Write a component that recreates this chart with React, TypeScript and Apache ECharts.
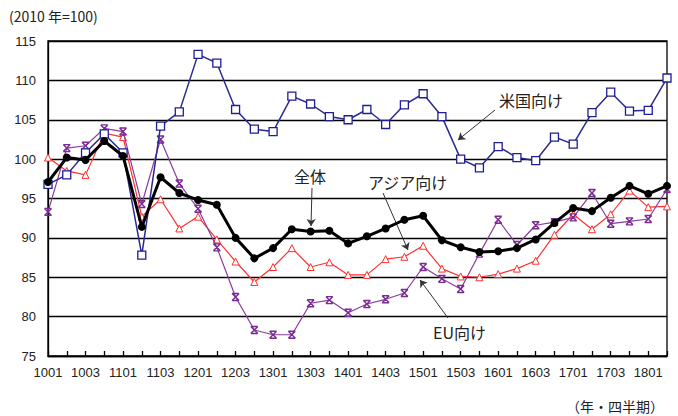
import React, { useEffect, useRef } from "react";
import * as echarts from "echarts";

const categories = [
  "1001", "1002", "1003", "1004", "1101", "1102", "1103", "1104",
  "1201", "1202", "1203", "1204", "1301", "1302", "1303", "1304",
  "1401", "1402", "1403", "1404", "1501", "1502", "1503", "1504",
  "1601", "1602", "1603", "1604", "1701", "1702", "1703", "1704",
  "1801", "1802",
];

const zentai = [
  97.1, 100.2, 99.9, 102.3, 100.4, 91.4, 97.7, 95.7,
  94.8, 94.2, 90.0, 87.4, 88.7, 91.1, 90.8, 90.9,
  89.3, 90.2, 91.2, 92.3, 92.8, 89.7, 88.8, 88.2,
  88.3, 88.7, 89.8, 91.9, 93.8, 93.4, 95.1, 96.6,
  95.6, 96.6,
];

const beikoku = [
  96.8, 98.0, 100.8, 103.2, 100.8, 87.8, 104.2, 106.0,
  113.3, 112.2, 106.3, 103.8, 103.5, 108.0, 107.0, 105.4,
  105.0, 106.3, 104.4, 106.9, 108.3, 105.4, 100.0, 98.9,
  101.6, 100.2, 99.8, 102.8, 101.9, 105.9, 108.5, 106.1,
  106.2, 110.3,
];

const asia = [
  100.2, 98.5, 98.0, 103.3, 102.8, 92.7, 94.9, 91.2,
  92.7, 89.8, 87.0, 84.4, 86.3, 88.7, 86.3, 86.9,
  85.3, 85.3, 87.3, 87.6, 89.0, 86.1, 85.1, 85.0,
  85.4, 86.1, 87.1, 90.4, 93.0, 91.1, 93.0, 96.0,
  93.9, 94.0,
];

const eu = [
  93.3, 101.4, 101.7, 103.9, 103.5, 94.3, 102.5, 96.9,
  93.7, 88.8, 82.5, 78.3, 77.7, 77.7, 81.7, 82.1,
  80.5, 81.6, 82.2, 83.0, 86.3, 84.8, 83.5, 88.0,
  92.3, 89.1, 91.6, 92.0, 92.6, 95.7, 91.8, 92.1,
  92.4, 96.2,
];

const yTicks = { min: 75, max: 115, interval: 5 };

const FONT = "'Liberation Sans', 'Noto Sans CJK JP', sans-serif";
const JP = "'Noto Sans CJK JP', 'Liberation Sans', sans-serif";

export default function App() {
  const ref = useRef<HTMLDivElement>(null);

  useEffect(() => {
    if (!ref.current) return;
    const chart = echarts.init(ref.current, null, { renderer: "svg" });

    const arrow = (x1: number, y1: number, x2: number, y2: number) => [
      { x: x1, y: y1 },
      { x: x2, y: y2 },
    ];

    const option: any = {
      animation: false,
      backgroundColor: "#ffffff",
      grid: {
        left: 48,
        right: 11,
        top: 41,
        bottom: 60,
        show: true,
        borderColor: "#000",
        borderWidth: 1.3,
        backgroundColor: "transparent",
      },
      xAxis: {
        type: "category",
        data: categories,
        boundaryGap: false,
        axisLine: { lineStyle: { color: "#000", width: 1.3 } },
        axisTick: {
          show: true,
          inside: true,
          length: 5,
          interval: 0,
          lineStyle: { color: "#000", width: 1.3 },
        },
        axisLabel: {
          interval: 1,
          fontSize: 13,
          color: "#222",
          fontFamily: FONT,
          margin: 10,
        },
        splitLine: { show: false },
      },
      yAxis: {
        type: "value",
        min: yTicks.min,
        max: yTicks.max,
        interval: yTicks.interval,
        axisLine: { show: true, lineStyle: { color: "#000", width: 1.3 } },
        axisTick: { show: false },
        axisLabel: {
          fontSize: 13,
          color: "#222",
          fontFamily: FONT,
          margin: 12,
        },
        splitLine: { show: true, lineStyle: { color: "#000", width: 1.3 } },
      },
      series: [
        {
          name: "アジア向け",
          type: "line",
          data: asia,
          symbol: "triangle",
          symbolSize: 7,
          lineStyle: { color: "#ff3030", width: 1.2 },
          itemStyle: { color: "#ffffff", borderColor: "#ff3030", borderWidth: 1 },
          z: 2,
        },
        {
          name: "EU向け",
          type: "line",
          data: eu,
          symbol: "path://M0,0 L10,0 M0,10 L10,10 M0,0 L10,10 M10,0 L0,10",
          symbolSize: 7,
          lineStyle: { color: "#8a3aa0", width: 1.2 },
          itemStyle: { color: "none", borderColor: "#7a2a90", borderWidth: 1.4 },
          z: 3,
        },
        {
          name: "米国向け",
          type: "line",
          data: beikoku,
          symbol: "rect",
          symbolSize: 8,
          lineStyle: { color: "#2a2a90", width: 1.5 },
          itemStyle: { color: "#ffffff", borderColor: "#1e1e96", borderWidth: 1.3 },
          z: 4,
        },
        {
          name: "全体",
          type: "line",
          data: zentai,
          symbol: "circle",
          symbolSize: 8,
          lineStyle: { color: "#000", width: 3 },
          itemStyle: { color: "#000" },
          z: 5,
          markLine: {
            silent: true,
            symbol: ["none", "arrow"],
            symbolSize: 7,
            label: { show: false },
            lineStyle: { color: "#333", width: 1, type: "solid" },
            data: [
              arrow(495, 110, 458, 140),
              arrow(312, 188, 311, 226),
              arrow(383, 193, 408, 250),
              arrow(448, 318, 420, 280),
            ],
          },
        },
      ],
      graphic: [
        {
          type: "text",
          left: 9,
          top: 9,
          style: { text: "(2010 年=100)", fontSize: 14, fill: "#222", fontFamily: JP },
        },
        {
          type: "text",
          left: 566,
          top: 399,
          style: { text: "（年・四半期）", fontSize: 14, fill: "#222", fontFamily: JP },
        },
        {
          type: "text",
          left: 499,
          top: 92,
          style: { text: "米国向け", fontSize: 16, fill: "#222", fontFamily: JP },
        },
        {
          type: "text",
          left: 294,
          top: 168,
          style: { text: "全体", fontSize: 16, fill: "#222", fontFamily: JP },
        },
        {
          type: "text",
          left: 368,
          top: 174,
          style: { text: "アジア向け", fontSize: 16, fill: "#222", fontFamily: JP },
        },
        {
          type: "text",
          left: 433,
          top: 324,
          style: { text: "EU向け", fontSize: 16, fill: "#222", fontFamily: JP },
        },
      ],
    };

    chart.setOption(option);
    return () => chart.dispose();
  }, []);

  return (
    <div
      ref={ref}
      style={{ width: 678, height: 416, position: "absolute", left: 0, top: 0, background: "#fff" }}
    />
  );
}
